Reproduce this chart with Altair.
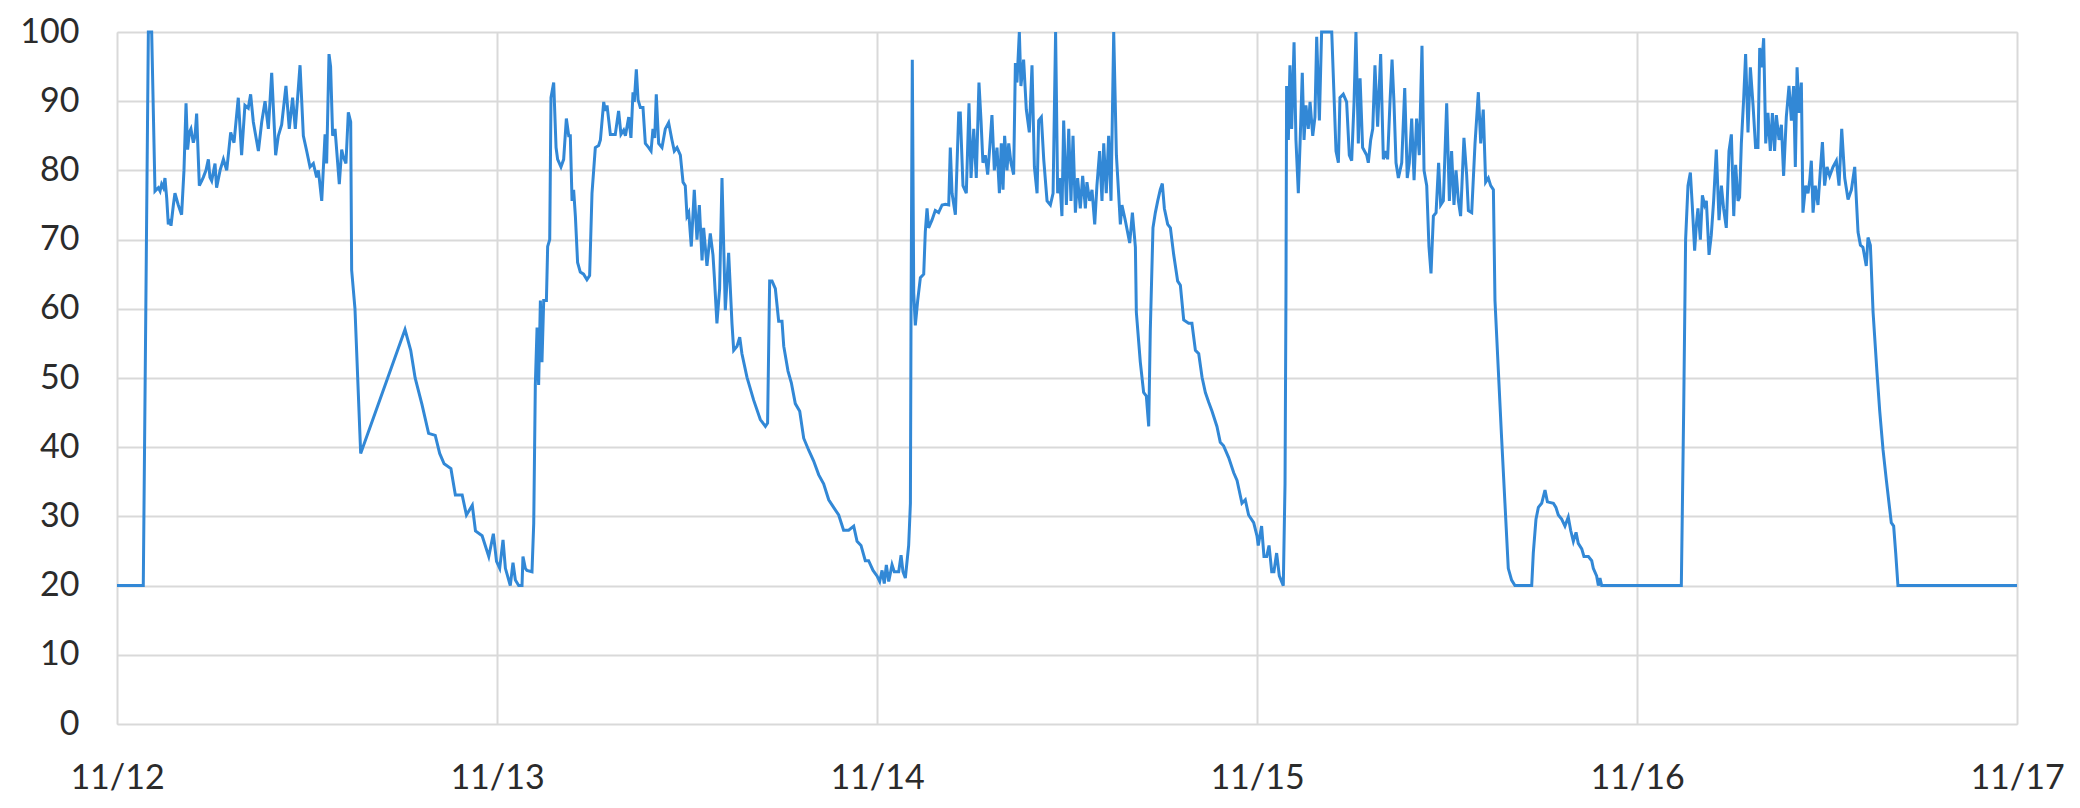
import altair as alt
import pandas as pd

# hours after 2019-11-12 00:00 and readings
day1_hours = [0, 1.66, 1.98, 2.19, 2.40, 2.61, 2.72, 2.82, 2.93, 3.03, 3.14, 3.24, 3.35, 3.41, 3.56,
              3.66, 3.87, 4.08, 4.23, 4.36, 4.46, 4.57, 4.67, 4.82, 4.93, 5.03, 5.20, 5.35, 5.45,
              5.62, 5.77, 5.87, 5.98, 6.19, 6.29, 6.51, 6.72, 6.93, 7.18, 7.39, 7.66, 7.87, 8.08,
              8.29, 8.44, 8.61, 8.93, 9.14, 9.35, 9.56, 9.77, 10.02, 10.19, 10.40, 10.67, 10.88,
              11.09, 11.26, 11.56, 11.77, 11.98, 12.19, 12.40, 12.61, 12.72, 12.93, 13.14, 13.24,
              13.39, 13.49, 13.62, 13.77, 14.04, 14.19, 14.29, 14.46, 14.61, 14.76, 14.82, 15.03,
              15.39, 18.19, 18.55, 18.83, 19.26, 19.68, 20.10, 20.38, 20.66, 21.09, 21.37, 21.80,
              22.07, 22.44, 22.64, 23.06, 23.48, 23.77, 23.97]
day1_values = [20, 20, 100, 100, 77, 77.5, 77, 78, 77.5, 78.9, 76, 72.2, 73, 72, 75,
               76.7, 75, 73.6, 80, 89.7, 83, 85.5, 86, 84, 85, 88.2, 77.8, 78.5, 79,
               80, 81.6, 79, 78.5, 81, 77.5, 80, 81.6, 80, 85.5, 84, 90.5, 82.2, 89.4,
               89, 91, 87, 82.8, 87, 90, 86, 94.1, 82.2, 85, 86.6, 92.2, 86,
               90.5, 86, 95.2, 85, 82.8, 80.5, 81, 79, 80, 75.6, 85.2, 81,
               96.8, 95, 85, 86, 78, 83, 82, 81, 88.4, 87, 65.6, 60,
               39.1, 57, 54, 50, 46.2, 42, 41.7, 39.1, 37.6, 36.9, 33.1, 33.1,
               30.2, 31.6, 27.9, 27.2, 24.2, 27.5, 23.5]

day2_hours = [24.17, 24.38, 24.53, 24.84, 25.01, 25.16, 25.37, 25.58, 25.64, 25.79, 25.89, 26.21,
              26.32, 26.42, 26.53, 26.63, 26.74, 26.84, 26.95, 27.12, 27.20, 27.33, 27.41, 27.58,
              27.73, 27.83, 28.04, 28.21, 28.38, 28.53, 28.63, 28.74, 28.84, 28.95, 29.09, 29.26,
              29.47, 29.68, 29.85, 30.00, 30.21, 30.42, 30.53, 30.74, 30.84, 30.95, 31.16, 31.47,
              31.68, 31.83, 32.00, 32.11, 32.32, 32.46, 32.59, 32.67, 32.80, 32.91, 33.05, 33.22,
              33.37, 33.58, 33.73, 33.85, 33.96, 34.06, 34.21, 34.42, 34.63, 34.84, 35.05, 35.20,
              35.37, 35.58, 35.75, 35.89, 36.00, 36.11, 36.27, 36.46, 36.63, 36.78, 36.95, 37.05,
              37.26, 37.47, 37.64, 37.73, 37.89, 38.06, 38.21, 38.42, 38.63, 38.84, 38.95, 39.16,
              39.33, 39.47, 39.79, 40.21, 40.63, 40.95, 41.09, 41.22, 41.37, 41.58, 41.79, 42.00,
              42.11, 42.38, 42.59, 42.84, 43.12, 43.37, 43.68, 44.00, 44.32, 44.63, 44.95, 45.26,
              45.58, 45.89, 46.21, 46.53, 46.74, 46.99, 47.26, 47.47, 47.75, 48.00]
day2_values = [22.5, 26.6, 22.5, 20, 23.3, 20.8, 20, 20, 24.2, 22.5, 22.2, 22,
               29, 49, 57.3, 49, 61.2, 52.3, 61.2, 61.2, 69, 70, 90.5, 92.7,
               83.3, 81.6, 80.5, 81.6, 87.5, 85, 85, 75.6, 77.2, 73.4, 66.7, 65.3,
               65, 64.2, 64.8, 76.7, 83.3, 83.6, 84.4, 89.9, 88.6, 89.4, 85.2, 85.2,
               88.6, 85.2, 85.8, 85, 87.7, 84.7, 91.3, 89.9, 94.6, 90.2, 89.1, 89.1,
               83.9, 83.3, 82.8, 86, 84.7, 91, 83.9, 83.3, 86, 86.9, 84.4, 82.8,
               83.3, 82.2, 78.3, 77.8, 73.4, 73.9, 69, 77.2, 70, 75, 67, 71.7,
               66.2, 70.9, 67.8, 64.5, 57.9, 62.9, 78.9, 59.8, 68.1, 57.9, 54, 54.6,
               55.9, 53.5, 50.1, 46.8, 44, 43, 43.5, 64, 64, 62.9, 58.2, 58.2,
               54.6, 51, 49.3, 46.3, 45.2, 41.3, 39.6, 38, 36, 34.7, 32.4, 31.3,
               30.2, 28, 28, 28.6, 26.4, 25.8, 23.6, 23.6, 22.2, 21.4]

day3_hours = [48.17, 48.32, 48.46, 48.59, 48.74, 48.95, 49.09, 49.37, 49.52, 49.64, 49.79, 50.00,
              50.11, 50.15, 50.23, 50.32, 50.42, 50.57, 50.74, 50.95, 51.05, 51.16, 51.26, 51.47,
              51.68, 51.89, 52.11, 52.32, 52.53, 52.63, 52.74, 52.95, 53.16, 53.26, 53.43, 53.64,
              53.81, 53.94, 54.11, 54.27, 54.44, 54.57, 54.69, 54.84, 54.99, 55.12, 55.26, 55.41,
              55.58, 55.73, 55.85, 55.96, 56.06, 56.21, 56.32, 56.46, 56.63, 56.74, 56.84, 56.99,
              57.09, 57.26, 57.43, 57.62, 57.79, 57.94, 58.11, 58.21, 58.38, 58.53, 58.74, 58.95,
              59.12, 59.28, 59.41, 59.54, 59.68, 59.79, 59.96, 60.11, 60.25, 60.38, 60.53, 60.67,
              60.84, 60.99, 61.16, 61.26, 61.43, 61.58, 61.75, 61.89, 62.06, 62.21, 62.32, 62.48,
              62.63, 62.78, 62.95, 63.12, 63.26, 63.37, 63.47, 63.68, 63.96, 64.13, 64.32, 64.38,
              64.63, 64.84, 65.01, 65.16, 65.26, 65.43, 65.58, 65.73, 65.89, 66.02, 66.15, 66.36,
              66.53, 66.74, 66.99, 67.16, 67.37, 67.68, 67.89, 68.11, 68.32, 68.53, 68.74, 68.95,
              69.16, 69.47, 69.68, 69.89, 70.21, 70.53, 70.74, 71.05, 71.26, 71.47, 71.79, 72.00]
day3_values = [20.6, 22.2, 20.3, 23, 20.6, 23, 22, 22, 24.4, 22, 21.1, 25.8,
               31.9, 59.5, 96, 62.3, 57.6, 61.2, 64.5, 65, 71.1, 74.5, 71.7, 72.8,
               74.2, 73.9, 75, 75.1, 75, 83.3, 76.7, 73.6, 88.3, 88.3, 77.8, 76.7,
               89.7, 78.9, 86, 78.9, 92.7, 87.2, 81.1, 82.2, 79.4, 83.3, 88, 80,
               83.3, 76.7, 83.9, 77.2, 85, 80, 83.9, 81.1, 79.4, 95.5, 92.7, 100,
               92.2, 96, 88.8, 85.5, 95.2, 80.5, 76.7, 87.2, 87.7, 81.6, 75.6, 75,
               76.7, 100, 76.7, 78.9, 73.4, 87.2, 75, 86, 75.6, 85, 73.9, 78.9,
               74.5, 79.2, 74.5, 78.3, 75.6, 77.2, 72.2, 77.8, 82.8, 75.6, 83.9, 76.7,
               85, 75.6, 100, 82.2, 76.7, 72.2, 75, 72.8, 69.5, 73.9, 68.9, 59.5,
               52.3, 47.9, 47.4, 43, 56.8, 71.7, 73.9, 75.6, 77.2, 78.1, 74.5, 72.2,
               71.7, 67.8, 64, 63.4, 58.4, 57.9, 57.9, 54, 53.5, 50.1, 47.9, 46.5,
               45.2, 43, 40.7, 40.2, 38.5, 36.3, 35.2, 31.9, 32.4, 30.2, 29.1, 27.2]

day4_hours = [72.08, 72.29, 72.44, 72.61, 72.76, 72.93, 73.07, 73.24, 73.41, 73.66, 73.77, 73.83,
              73.87, 73.98, 74.08, 74.19, 74.34, 74.46, 74.61, 74.72, 74.86, 74.97, 75.09, 75.24,
              75.35, 75.52, 75.66, 75.77, 75.94, 76.08, 76.72, 76.99, 77.14, 77.24, 77.45, 77.66,
              77.83, 77.98, 78.13, 78.25, 78.40, 78.51, 78.67, 78.93, 79.03, 79.18, 79.31, 79.45,
              79.62, 79.81, 79.98, 80.15, 80.25, 80.40, 80.53, 80.65, 80.78, 80.93, 81.14, 81.33,
              81.49, 81.62, 81.77, 81.92, 82.08, 82.25, 82.42, 82.55, 82.72, 82.86, 82.99, 83.14,
              83.31, 83.47, 83.60, 83.77, 83.98, 84.15, 84.29, 84.44, 84.57, 84.72, 84.86, 85.07,
              85.24, 85.35, 85.56, 85.77, 85.98, 86.13, 86.29, 86.44, 86.61, 86.76, 86.93, 87.03,
              87.24, 87.45, 87.66, 87.87, 88.08, 88.29, 89.35, 89.45, 89.62, 89.77, 89.98, 90.19,
              90.34, 90.72, 90.88, 91.03, 91.24, 91.45, 91.66, 91.81, 91.98, 92.15, 92.29, 92.51,
              92.65, 92.93, 93.14, 93.24, 93.45, 93.56, 93.66, 93.77]
day4_values = [25.8, 28.6, 24.2, 24.2, 25.8, 22, 22, 24.7, 21.4, 20, 34.7, 62.3,
               92.2, 84.4, 95.2, 86, 98.5, 84.4, 76.7, 83.9, 94.1, 84.4, 89.4, 86,
               89.9, 85, 87.7, 99.3, 87.2, 100, 100, 82.8, 81.1, 90.5, 91, 89.9,
               82.2, 81.4, 89.9, 100, 83.9, 93.3, 83.3, 82.2, 81.1, 84.4, 86, 95.2,
               86.3, 96.8, 81.6, 82.8, 81.6, 89.9, 96, 89.9, 81.1, 78.9, 81.1, 91.9,
               78.9, 81.1, 87.5, 78.6, 87.5, 82.2, 98, 80, 77.8, 69, 65.1, 73.4,
               73.9, 81.1, 75, 75.6, 89.7, 75.6, 82.8, 75, 80, 75.6, 73.4, 84.7,
               79.4, 74.2, 73.9, 83.9, 91.3, 83.9, 88.8, 78.3, 78.9, 77.8, 77.2, 61.2,
               51.2, 41.3, 31.9, 22.5, 20.8, 20, 20, 24.7, 29.6, 31.3, 31.9, 33.8,
               32.1, 31.9, 31.3, 30.2, 29.6, 28.6, 29.9, 28, 26.4, 27.7, 26.1, 25.3,
               24.2, 24.2, 23.6, 22.5, 21.4, 20, 21.1, 20]

day5_hours = [98.80, 98.95, 99.07, 99.22, 99.37, 99.49, 99.64, 99.75, 99.85, 100.00, 100.13,
              100.27, 100.38, 100.55, 100.69, 100.84, 101.01, 101.18, 101.33, 101.47, 101.64,
              101.81, 101.96, 102.11, 102.23, 102.38, 102.48, 102.59, 102.74, 102.86, 103.01,
              103.16, 103.33, 103.49, 103.64, 103.75, 103.87, 104.00, 104.13, 104.27, 104.42,
              104.55, 104.69, 104.80, 104.97, 105.12, 105.26, 105.43, 105.60, 105.75, 105.89,
              106.00, 106.11, 106.23, 106.38, 106.48, 106.65, 106.80, 106.91, 107.01, 107.12,
              107.26, 107.43, 107.58, 107.71, 107.85, 108.00, 108.17, 108.38, 108.59, 108.76,
              108.93, 109.12, 109.33, 109.54, 109.75, 109.96, 110.11, 110.27, 110.48, 110.59,
              110.74, 110.91, 111.16, 111.33, 111.54, 111.75, 112.06, 112.21, 112.34, 112.48, 120.0]
day5_values = [20, 45.7, 70, 77.8, 79.7, 75, 68.4, 72.2, 74.5, 70, 76.4,
               75, 75.6, 67.8, 70.6, 75.6, 83, 72.8, 77.8, 74.5, 71.7,
               82.8, 85.2, 73.4, 80.8, 75.6, 76.1, 83.9, 90.5, 96.8, 85.5,
               94.9, 89.4, 83.3, 83.3, 97.7, 94.9, 99.1, 83.9, 88.3, 82.8,
               88.3, 82.8, 88, 84.4, 86.6, 79.2, 87.7, 92.2, 87.2, 92.2,
               80.5, 94.9, 88.3, 92.7, 73.9, 77.8, 76.7, 78.6, 81.4, 73.9,
               77.8, 75, 80, 84.1, 77.8, 80.5, 79.2, 80.5, 81.4, 77.8,
               86, 78.9, 75.8, 77.2, 80.5, 71.1, 69.2, 68.9, 66.2, 70.3,
               69.2, 59.5, 50.7, 45.2, 39.6, 35.2, 29.1, 28.6, 24.7, 20, 20]

tick_days = ["2019-11-12", "2019-11-13", "2019-11-14", "2019-11-15", "2019-11-16", "2019-11-17"]
y_ticks = [0, 10, 20, 30, 40, 50, 60, 70, 80, 90, 100]

hours = day1_hours + day2_hours + day3_hours + day4_hours + day5_hours
values = day1_values + day2_values + day3_values + day4_values + day5_values
start = pd.Timestamp("2019-11-12T00:00:00Z")
df = pd.DataFrame({
    "time": [(start + pd.Timedelta(hours=h)).strftime("%Y-%m-%dT%H:%M:%SZ") for h in hours],
    "value": values,
})

FONT = "Lato"
TEXT = "#2b2b2b"
GRID = "#d9d9d9"

chart = alt.Chart(
    df,
    padding={"left": 109, "top": 24, "right": 55, "bottom": 84},
    autosize="none",
).mark_line(color="#3288d6", strokeWidth=3, interpolate="linear").encode(
    x=alt.X(
        "time:T",
        scale=alt.Scale(type="utc", domain=[tick_days[0] + "T00:00:00Z", tick_days[-1] + "T00:00:00Z"]),
        axis=alt.Axis(
            values=[d + "T00:00:00Z" for d in tick_days],
            labelExpr="utcFormat(datum.value, '%m/%d')",
            title=None,
            ticks=False,
            domain=False,
            grid=True,
            gridColor=GRID,
            gridWidth=2,
            labelFont=FONT,
            labelFontSize=34,
            labelColor=TEXT,
            labelPadding=37,
            labelAngle=0,
            labelAlign="center",
            labelFlush=False,
            labelOverlap=False,
        ),
    ),
    y=alt.Y(
        "value:Q",
        scale=alt.Scale(domain=[0, 100], nice=False, zero=True),
        axis=alt.Axis(
            values=y_ticks,
            title=None,
            ticks=False,
            domain=False,
            grid=True,
            gridColor=GRID,
            gridWidth=2,
            labelFont=FONT,
            labelFontSize=34,
            labelColor=TEXT,
            labelPadding=38,
            labelFlush=False,
            labelOverlap=False,
        ),
    ),
).properties(
    width=1900,
    height=692,
).configure_view(
    stroke=None,
).configure(
    background="white",
)

chart.save("out.html", embed_options={"renderer": "svg", "actions": False})
